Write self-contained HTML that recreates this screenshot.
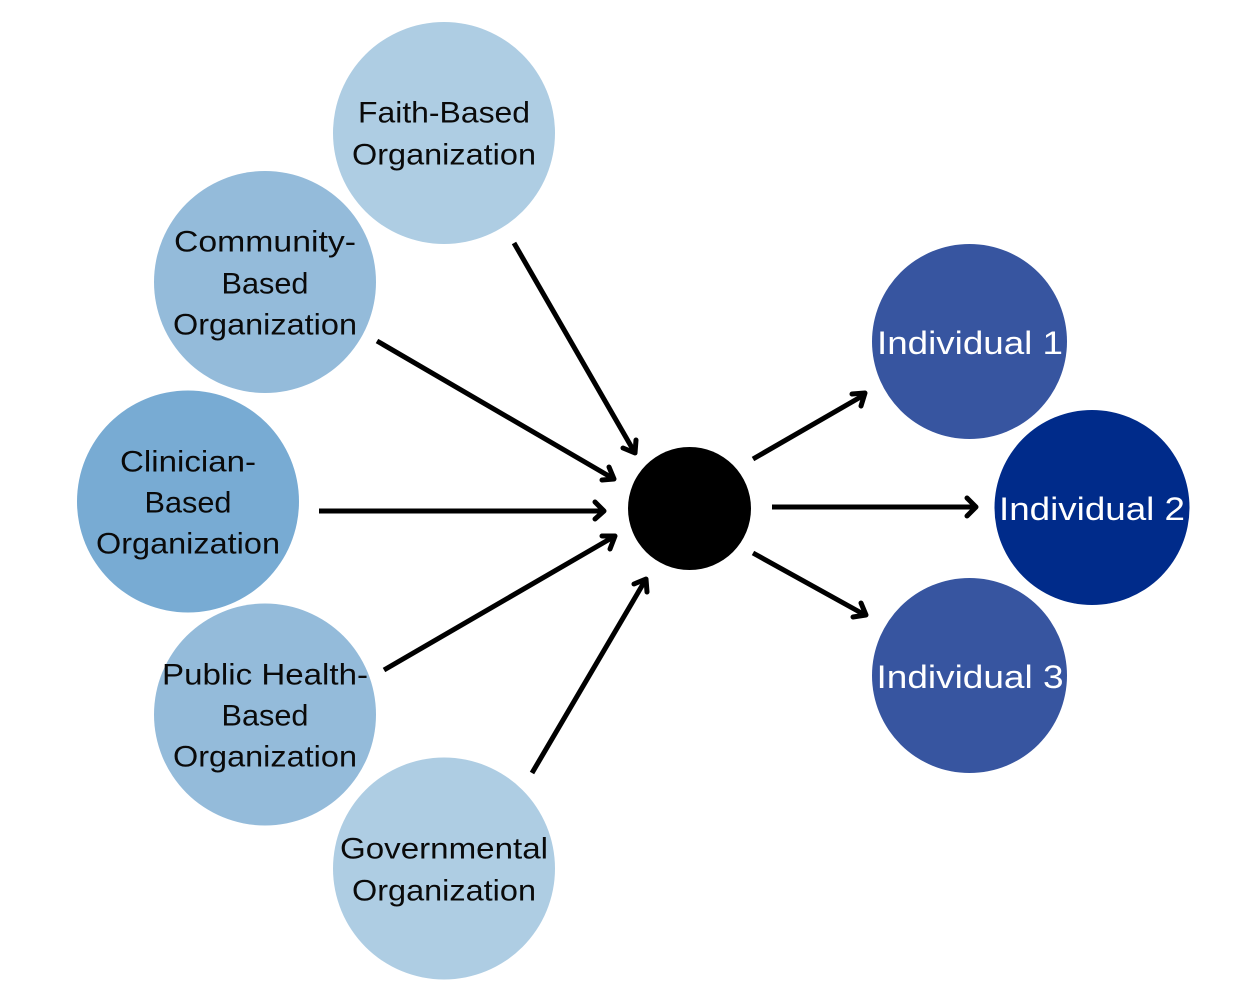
<!DOCTYPE html>
<html><head><meta charset="utf-8"><style>
html,body{margin:0;padding:0;background:#fff}
svg{display:block}
text{font-family:"Liberation Sans",sans-serif;font-size:30px;text-anchor:middle;fill:#0a0a0a}
text.w{fill:#fff;font-size:32px}
.l{stroke:#000;stroke-width:5;fill:none}
.h{stroke:#000;stroke-width:5;fill:none;stroke-linecap:round;stroke-linejoin:round}
</style></head><body>
<svg width="1252" height="1008" viewBox="0 0 1252 1008" xmlns="http://www.w3.org/2000/svg">
<rect width="1252" height="1008" fill="#fff"/>
<circle cx="444" cy="133" r="111" fill="#aecde3"/>
<circle cx="265" cy="282" r="111" fill="#94bbda"/>
<circle cx="188" cy="501.5" r="111" fill="#78abd3"/>
<circle cx="265" cy="714.5" r="111" fill="#94bbda"/>
<circle cx="444" cy="868.5" r="111" fill="#aecde3"/>
<circle cx="689.5" cy="508.5" r="61.5" fill="#000"/>
<circle cx="969.5" cy="341.5" r="97.5" fill="#3755a0"/>
<circle cx="1092" cy="507.5" r="97.5" fill="#002b8a"/>
<circle cx="969.5" cy="675.5" r="97.5" fill="#3755a0"/>
<g class="l">
<line x1="514" y1="243" x2="635" y2="453"/>
<line x1="377" y1="341" x2="614" y2="479"/>
<line x1="319" y1="511" x2="604" y2="511"/>
<line x1="384" y1="670" x2="615" y2="536"/>
<line x1="532" y1="773" x2="646" y2="579"/>
<line x1="753" y1="459" x2="864" y2="395"/>
<line x1="772" y1="507" x2="976" y2="507"/>
<line x1="753" y1="553" x2="865" y2="615"/>
</g>
<g class="h">
<path d="M623 448L635 453L636 440"/>
<path d="M602 480L614 479L609 467"/>
<path d="M595 502L604 511L595 519"/>
<path d="M602 536L615 536L610 549"/>
<path d="M634 584L646 579L647 592"/>
<path d="M852 394L865 393L861 406"/>
<path d="M967 498L976 507L967 516"/>
<path d="M853 617L866 615L861 603"/>
</g>
<text x="444" y="122.5" textLength="172" lengthAdjust="spacingAndGlyphs">Faith-Based</text>
<text x="444" y="164.5" textLength="184" lengthAdjust="spacingAndGlyphs">Organization</text>
<text x="265" y="251.5" textLength="182" lengthAdjust="spacingAndGlyphs">Community-</text>
<text x="265" y="293.5" textLength="87" lengthAdjust="spacingAndGlyphs">Based</text>
<text x="265" y="334.5" textLength="184" lengthAdjust="spacingAndGlyphs">Organization</text>
<text x="188" y="471.5" textLength="136" lengthAdjust="spacingAndGlyphs">Clinician-</text>
<text x="188" y="512.5" textLength="87" lengthAdjust="spacingAndGlyphs">Based</text>
<text x="188" y="553.5" textLength="184" lengthAdjust="spacingAndGlyphs">Organization</text>
<text x="265" y="684.5" textLength="206" lengthAdjust="spacingAndGlyphs">Public Health-</text>
<text x="265" y="725.5" textLength="87" lengthAdjust="spacingAndGlyphs">Based</text>
<text x="265" y="766.5" textLength="184" lengthAdjust="spacingAndGlyphs">Organization</text>
<text x="444" y="858.5" textLength="208" lengthAdjust="spacingAndGlyphs">Governmental</text>
<text x="444" y="900.5" textLength="184" lengthAdjust="spacingAndGlyphs">Organization</text>
<text class="w" x="970" y="354" textLength="186" lengthAdjust="spacingAndGlyphs">Individual 1</text>
<text class="w" x="1092" y="520" textLength="186" lengthAdjust="spacingAndGlyphs">Individual 2</text>
<text class="w" x="970" y="688" textLength="187" lengthAdjust="spacingAndGlyphs">Individual 3</text>
</svg>
</body></html>
